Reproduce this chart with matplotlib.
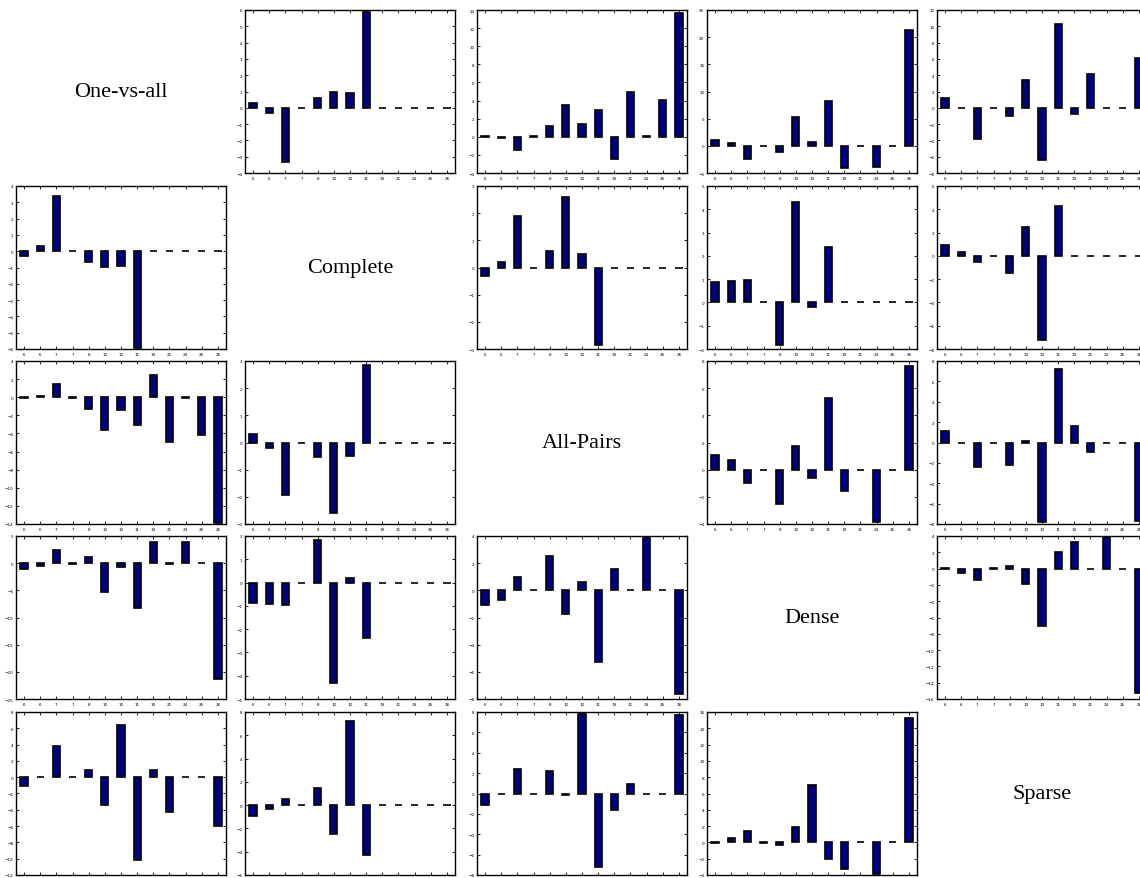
import numpy as np
import matplotlib
matplotlib.use("Agg")
import matplotlib.pyplot as plt
from matplotlib.ticker import MaxNLocator

# class labels along the x axis of every panel
classes = ['6', '6', '7', '7', '8', '10', '10', '11', '19', '21', '24', '26', '26']
methods = ["One-vs-all", "Complete", "All-Pairs", "Dense", "Sparse"]

# -----------------------------
# DIFFERENCES (row method vs column method)
# -----------------------------
ova_complete = [0.3, -0.3, -3.35, 0, 0.6, 0.97, 0.88, 5.85, 0, 0, 0, 0, 0]
ova_allpairs = [0.05, -0.1, -1.5, 0.05, 1.2, 3.5, 1.36, 3.0, -2.4, 4.9, 0.05, 4.1, 13.7]
ova_dense = [1.1, 0.6, -2.45, 0, -1.2, 5.25, 0.7, 8.3, -4.0, 0, -3.85, 0, 21.3]
ova_sparse = [1.15, 0, -3.85, 0, -0.95, 3.4, -6.45, 10.3, -0.8, 4.15, 0, 0, 6.1]

complete_ova = [-0.3, 0.3, 3.4, 0, -0.65, -0.97, -0.9, -5.95, 0, 0, 0, 0, 0]
complete_allpairs = [-0.3, 0.2, 1.9, 0, 0.6, 2.6, 0.5, -2.85, 0, 0, 0, 0, 0]
complete_dense = [0.86, 0.93, 0.97, 0, -1.83, 4.3, -0.2, 2.4, 0, 0, 0, 0, 0]
complete_sparse = [0.9, 0.3, -0.5, 0, -1.5, 2.5, -7.2, 4.3, 0, 0, 0, 0, 0]

allpairs_ova = [-0.05, 0.1, 1.48, -0.05, -1.26, -3.6, -1.4, -3.1, 2.4, -4.96, -0.05, -4.2, -13.9]
allpairs_complete = [0.3, -0.2, -1.95, 0, -0.55, -2.6, -0.5, 2.85, 0, 0, 0, 0, 0]
allpairs_dense = [1.1, 0.7, -0.95, 0, -2.5, 1.75, -0.65, 5.3, -1.6, 0, -3.85, 0, 7.6]
allpairs_sparse = [1.1, 0, -2.4, 0, -2.2, 0.15, -7.8, 7.2, 1.6, -0.9, 0, 0, -7.7]

dense_ova = [-1.1, -0.6, 2.44, -0.1, 1.22, -5.24, -0.73, -8.3, 3.96, -0.1, 3.84, 0, -21.3]
dense_complete = [-0.86, -0.93, -0.97, 0, 1.83, -4.3, 0.2, -2.4, 0, 0, 0, 0, 0]
dense_allpairs = [-1.1, -0.7, 0.95, 0, 2.5, -1.75, 0.65, -5.3, 1.6, 0, 3.85, 0, -7.6]
dense_sparse = [0.05, -0.6, -1.43, 0.05, 0.33, -1.9, -7.06, 2.0, 3.26, 0, 3.9, 0, -15.3]

sparse_ova = [-1.1, 0, 3.84, 0, 0.94, -3.4, 6.45, -10.2, 0.86, -4.24, 0, 0, -6.04]
sparse_complete = [-0.9, -0.3, 0.5, 0, 1.5, -2.5, 7.2, -4.3, 0, 0, 0, 0, 0]
sparse_allpairs = [-1.1, 0, 2.4, 0, 2.2, -0.15, 7.8, -7.2, -1.6, 0.9, 0, 0, 7.7]
sparse_dense = [-0.05, 0.6, 1.43, -0.05, -0.33, 1.9, 7.06, -2.0, -3.26, 0, -3.9, 0, 15.3]

# (row, col) -> (values, y range)
panels = {
    (0, 1): (ova_complete, (-4, 6)),
    (0, 2): (ova_allpairs, (-4, 14)),
    (0, 3): (ova_dense, (-5, 25)),
    (0, 4): (ova_sparse, (-8, 12)),
    (1, 0): (complete_ova, (-6, 4)),
    (1, 2): (complete_allpairs, (-3, 3)),
    (1, 3): (complete_dense, (-2, 5)),
    (1, 4): (complete_sparse, (-8, 6)),
    (2, 0): (allpairs_ova, (-14, 4)),
    (2, 1): (allpairs_complete, (-3, 3)),
    (2, 3): (allpairs_dense, (-4, 8)),
    (2, 4): (allpairs_sparse, (-8, 8)),
    (3, 0): (dense_ova, (-25, 5)),
    (3, 1): (dense_complete, (-5, 2)),
    (3, 2): (dense_allpairs, (-8, 4)),
    (3, 4): (dense_sparse, (-16, 4)),
    (4, 0): (sparse_ova, (-12, 8)),
    (4, 1): (sparse_complete, (-6, 8)),
    (4, 2): (sparse_allpairs, (-8, 8)),
    (4, 3): (sparse_dense, (-4, 16)),
}

# -----------------------------
# GRID GEOMETRY (pixels)
# -----------------------------
W, H = 1140, 879
col_left = [16, 245, 477, 707, 937]
row_top = [11, 187, 362, 537, 713]
pw, ph = 210, 163

fig = plt.figure(figsize=(W / 100, H / 100), dpi=100)

x = np.arange(1, len(classes) + 1)

for r in range(5):
    for c in range(5):
        if r == c:
            fig.text((col_left[c] + pw / 2) / W, 1 - (row_top[r] + ph / 2) / H,
                     methods[r], ha='center', va='center',
                     fontsize=16, family='Liberation Serif')
            continue

        vals, ylim = panels[(r, c)]
        ax = fig.add_axes([col_left[c] / W, 1 - (row_top[r] + ph) / H, pw / W, ph / H])
        ax.bar(x, vals, width=0.45, color='#000080', edgecolor='black', linewidth=1.2)
        ax.set_xlim(0.5, 13.5)
        ax.set_ylim(*ylim)
        ax.set_xticks(x)
        ax.set_xticklabels(classes)
        ax.yaxis.set_major_locator(MaxNLocator(nbins=10, steps=[1, 2, 5, 10]))
        ax.tick_params(direction='in', length=2.5, width=0.6, labelsize=3,
                       top=True, right=True, pad=2)
        for s in ax.spines.values():
            s.set_linewidth(1.0)

fig.savefig("out.png", dpi=100)
